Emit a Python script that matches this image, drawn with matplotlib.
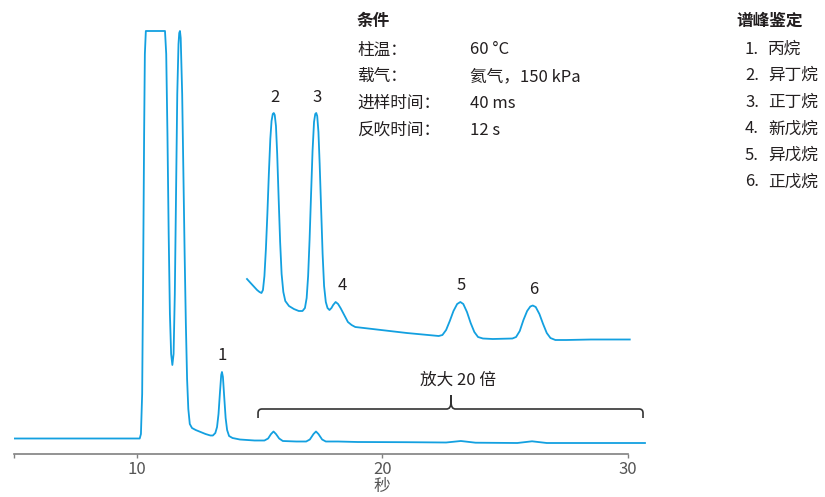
import numpy as np
import matplotlib.pyplot as plt
from matplotlib.path import Path
from matplotlib.patches import PathPatch

# Data: main chromatogram (time in s, detector signal, arbitrary units)
main_time = [5.0, 9.0, 10.12, 10.17, 10.22, 10.26, 10.3, 10.33, 10.37, 11.15,
             11.2, 11.25, 11.3, 11.35, 11.4, 11.45, 11.5, 11.55, 11.6, 11.65,
             11.7, 11.73, 11.76, 11.79, 11.85, 11.9, 11.95, 12.0, 12.05, 12.1,
             12.16, 12.25, 12.4, 12.6, 12.8, 13.0, 13.1, 13.2, 13.27, 13.33,
             13.39, 13.44, 13.47, 13.51, 13.56, 13.62, 13.68, 13.76, 13.9, 14.2,
             14.8, 15.2, 15.35, 15.47, 15.57, 15.67, 15.8, 15.95, 16.5, 16.9,
             17.05, 17.2, 17.3, 17.4, 17.55, 17.7, 18.2, 19.0, 21.0, 22.6,
             23.2, 23.8, 25.5, 26.1, 26.7, 28.0, 30.7]
main_signal = [15.5, 15.5, 15.5, 20, 60, 180, 320, 400, 423, 423,
               400, 320, 220, 140, 100, 89, 100, 160, 260, 360,
               410, 421, 423, 416, 360, 280, 200, 130, 75, 45,
               30, 26, 24, 22, 20, 18.5, 18.5, 21, 27, 40,
               62, 79, 82, 77, 58, 36, 24, 18, 16, 14.5,
               13.5, 13.5, 15.5, 20, 22.5, 20, 15.5, 13, 12.5, 12.5,
               14.5, 20, 22.5, 20, 14.5, 12.5, 12.5, 12, 11.8, 11.5,
               13, 11.3, 11, 12.7, 11, 11, 11]

# Data: 20x expanded trace (offset upward)
inset_time = [14.49, 14.6, 14.75, 14.9, 15.0, 15.08, 15.14, 15.2, 15.26, 15.32,
              15.38, 15.44, 15.49, 15.54, 15.58, 15.62, 15.67, 15.72, 15.78, 15.84,
              15.9, 15.97, 16.05, 16.2, 16.4, 16.6, 16.75, 16.85, 16.92, 16.98,
              17.04, 17.1, 17.16, 17.22, 17.27, 17.31, 17.35, 17.4, 17.45, 17.51,
              17.57, 17.63, 17.7, 17.77, 17.85, 17.93, 18.0, 18.1, 18.2, 18.3,
              18.45, 18.6, 18.75, 18.9, 19.6, 21.0, 22.3, 22.45, 22.6, 22.75,
              22.9, 23.05, 23.18, 23.3, 23.45, 23.6, 23.75, 23.9, 24.1, 24.5,
              25.3, 25.45, 25.6, 25.75, 25.9, 26.03, 26.13, 26.25, 26.4, 26.55,
              26.7, 26.85, 27.05, 27.5, 28.5, 30.08]
inset_signal = [175, 172, 168, 164, 162, 161, 164, 178, 205, 240,
                280, 315, 333, 340, 341, 339, 328, 300, 255, 212,
                180, 162, 153, 148, 145, 143, 143, 146, 156, 178,
                215, 260, 303, 332, 340, 341, 338, 322, 290, 245,
                200, 168, 152, 146, 144, 146, 149, 152, 150, 146,
                139, 132, 129, 127, 125, 121, 118, 119, 124, 133,
                143, 150, 152, 150, 142, 131, 122, 117, 115.5, 115,
                115.5, 117, 123, 134, 143, 147.5, 148.5, 147, 140, 130,
                121, 116, 114, 114, 114.5, 114.5]

peak_ids = ['1', '2', '3', '4', '5', '6']
peak_times = [13.47, 15.58, 17.31, 18.2, 23.18, 26.13]
peak_names = ['丙烷', '异丁烷', '正丁烷', '新戊烷', '异戊烷', '正戊烷']

cond_labels = ['柱温：', '载气：', '进样时间：', '反吹时间：']
cond_values = ['60 °C', '氦气，150 kPa', '40 ms', '12 s']

plt.rcParams['font.family'] = ['Noto Sans CJK SC', 'DejaVu Sans']
ink = '#231f20'
blue = '#13a0e0'

W, H = 825, 497
fig = plt.figure(figsize=(W / 100, H / 100), dpi=100)
ax = fig.add_axes([14 / W, 43 / H, (646.2 - 14) / W, 440 / H])
ax.set_xlim(5, 30.75)
ax.set_ylim(0, 440)

ax.plot(main_time, main_signal, color=blue, lw=1.3)
ax.plot(inset_time, inset_signal, color=blue, lw=1.3)

# peak number labels, placed just above each peak
mt, ms = np.array(main_time), np.array(main_signal)
it, isig = np.array(inset_time), np.array(inset_signal)
for i, (pid, pt) in enumerate(zip(peak_ids, peak_times)):
    if i == 0:
        top = ms[np.abs(mt - pt) < 0.1].max()
        x = pt
    else:
        top = isig[np.abs(it - pt) < 0.1].max()
        x = pt + (0.16 if pid == '4' else 0.03)
    ax.text(x, top + 16, pid, ha='center', va='center', fontsize=12, color=ink)

# curly bracket for the 20x expanded region
x0, xm, x1 = 14.94, 22.8, 30.62
verts = [(x0, 36), (x0, 41), (x0, 45), (x0 + 0.16, 45), (xm - 0.18, 45),
         (xm, 45), (xm, 52), (xm, 59), (xm, 52), (xm, 45), (xm + 0.18, 45),
         (x1 - 0.16, 45), (x1, 45), (x1, 41), (x1, 36)]
codes = [Path.MOVETO, Path.LINETO, Path.CURVE3, Path.CURVE3, Path.LINETO,
         Path.CURVE3, Path.CURVE3, Path.LINETO, Path.LINETO, Path.CURVE3, Path.CURVE3,
         Path.LINETO, Path.CURVE3, Path.CURVE3, Path.LINETO]
ax.add_patch(PathPatch(Path(verts, codes), fill=False, ec='#333333', lw=1.2))
ax.text(23.1, 74, '放大 20 倍', ha='center', va='center', fontsize=12, color=ink)

for s in ['top', 'left', 'right']:
    ax.spines[s].set_visible(False)
ax.spines['bottom'].set_bounds(5, 30)
ax.spines['bottom'].set_color('#808080')
ax.spines['bottom'].set_linewidth(1.2)
ax.set_yticks([])
ax.set_xticks([5, 10, 20, 30])
ax.set_xticklabels(['', '10', '20', '30'])
ax.tick_params(axis='x', length=3, width=1, color='#808080', labelcolor='#555555',
               labelsize=12, pad=2)
# axis title sits under the 20 s tick
ax.annotate('秒', xy=(20, 0), xycoords=('data', 'axes fraction'),
            xytext=(0, -33), textcoords='offset pixels',
            ha='center', va='center', fontsize=12, color='#555555')

# conditions block
fig.text(357 / W, 1 - 21 / H, '条件', fontsize=12, fontweight='bold', color=ink, va='center')
for k, (lab, val) in enumerate(zip(cond_labels, cond_values)):
    y = 1 - (50 + 26.7 * k) / H
    fig.text(357 / W, y, lab, fontsize=12, color=ink, va='center')
    fig.text(470 / W, y, val, fontsize=12, color=ink, va='center')

# peak identification list
fig.text(736 / W, 1 - 21 / H, '谱峰鉴定', fontsize=12, fontweight='bold', color=ink, va='center')
for k, (pid, name) in enumerate(zip(peak_ids, peak_names)):
    y = 1 - (49 + 26.6 * k) / H
    fig.text(745 / W, y, pid + '.', fontsize=12, color=ink, va='center')
    fig.text(768 / W, y, name, fontsize=12, color=ink, va='center')

fig.savefig('out.png', dpi=100)
